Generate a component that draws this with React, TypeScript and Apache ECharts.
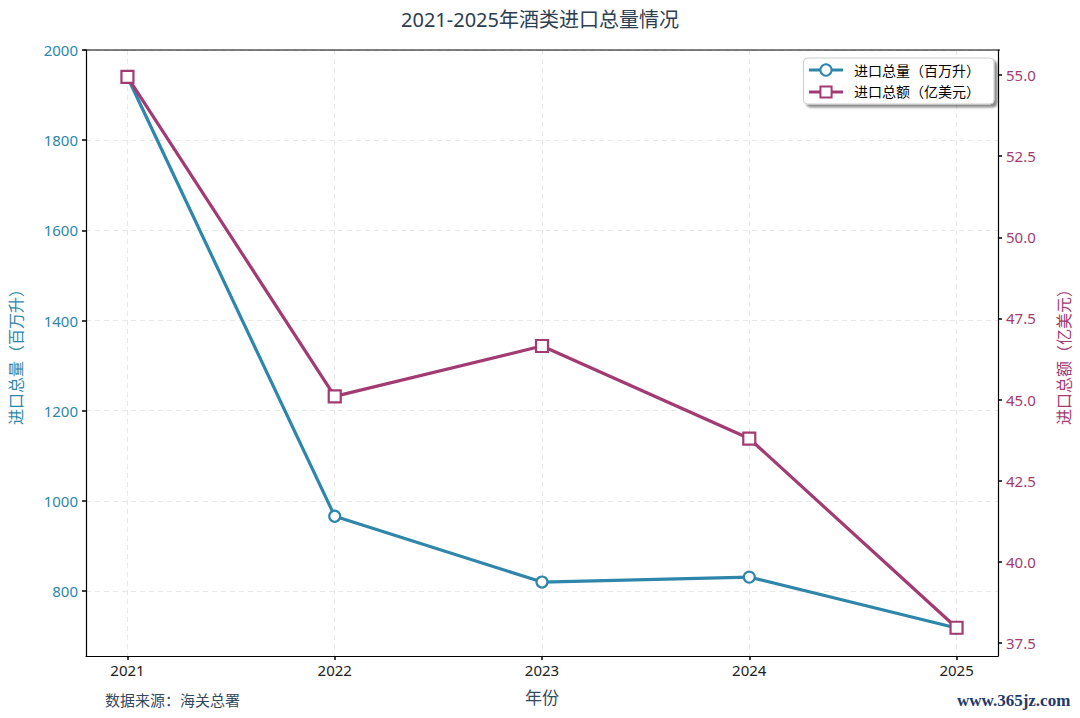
import React, { useEffect, useRef } from "react";
import * as echarts from "echarts";

const years = [2021, 2022, 2023, 2024, 2025];
const volume = [1940, 966, 820, 831, 718];
const amount = [54.94, 45.1, 46.65, 43.8, 37.97];
const leftTicks = [800, 1000, 1200, 1400, 1600, 1800, 2000];
const rightTicks = [37.5, 40, 42.5, 45, 47.5, 50, 52.5, 55];

const BLUE = "#2E86AB";
const MAG = "#A23B72";
const FONT = "'Noto Sans', 'Noto Sans CJK SC', sans-serif";

export default function App() {
  const ref = useRef<HTMLDivElement>(null);
  useEffect(() => {
    if (!ref.current) return;
    const chart = echarts.init(ref.current, null, { renderer: "svg" });
    chart.setOption({
      animation: false,
      backgroundColor: "#ffffff",
      textStyle: { fontFamily: FONT },
      title: {
        text: "2021-2025年酒类进口总量情况",
        left: "center",
        top: 4,
        textStyle: { fontSize: 20, fontWeight: "normal", color: "#2C3E50", fontFamily: FONT },
      },
      legend: {
        right: 86,
        top: 58,
        orient: "vertical",
        itemWidth: 34,
        itemHeight: 14,
        itemGap: 8,
        padding: [5, 14, 5, 4],
        backgroundColor: "#ffffff",
        borderColor: "#cccccc",
        borderWidth: 1,
        borderRadius: 4,
        shadowColor: "rgba(0,0,0,0.45)",
        shadowBlur: 2,
        shadowOffsetX: 3,
        shadowOffsetY: 3,
        lineStyle: { width: 3 },
        textStyle: { fontSize: 14, color: "#000", fontFamily: FONT, padding: [0, 0, 0, 6] },
        data: ["进口总量（百万升）", "进口总额（亿美元）"],
      },
      grid: { left: 84, right: 80, top: 50, bottom: 62 },
      xAxis: {
        type: "value",
        min: 2020.8,
        max: 2025.2,
        name: "年份",
        nameLocation: "middle",
        nameGap: 33,
        nameTextStyle: { fontSize: 17, color: "#34495E" },
        axisLine: { show: true, lineStyle: { color: "#000", width: 1.2 } },
        axisTick: { show: true, length: 4, inside: false, customValues: years, lineStyle: { color: "#000", width: 1.5 } },
        axisLabel: { customValues: years, color: "#222", fontSize: 15, margin: 6, formatter: (v: number) => String(v) },
        splitLine: { show: true, lineStyle: { color: "#e8e8e8", type: [5, 4], width: 1 } },
      },
      yAxis: [
        {
          type: "value",
          min: 656,
          max: 2000,
          position: "left",
          name: "进口总量（百万升）",
          nameLocation: "middle",
          nameGap: 62,
          nameTextStyle: { fontSize: 16, color: BLUE },
          axisLine: { show: true, lineStyle: { color: "#000", width: 1.2 } },
          axisTick: { show: true, length: 4, customValues: leftTicks, lineStyle: { color: "#000", width: 1.5 } },
          axisLabel: { customValues: leftTicks, color: BLUE, fontSize: 15, margin: 8, formatter: (v: number) => String(v) },
          splitLine: { show: true, lineStyle: { color: "#e8e8e8", type: [5, 4], width: 1 } },
        },
        {
          type: "value",
          min: 37.1,
          max: 55.77,
          position: "right",
          name: "进口总额（亿美元）",
          nameLocation: "middle",
          nameGap: 58,
          nameRotate: 90,
          nameTextStyle: { fontSize: 16, color: MAG },
          axisLine: { show: true, lineStyle: { color: "#000", width: 1.2 } },
          axisTick: { show: true, length: 4, customValues: rightTicks, lineStyle: { color: "#000", width: 1.5 } },
          axisLabel: { customValues: rightTicks, color: MAG, fontSize: 15, margin: 8, formatter: (v: number) => v.toFixed(1) },
          splitLine: { show: false },
        },
      ],
      graphic: [
        { type: "line", z: 100, shape: { x1: 84, y1: 50, x2: 1000, y2: 50 }, style: { stroke: "#000", lineWidth: 1.2 }, silent: true },
        {
          type: "text",
          left: 105,
          top: 692,
          style: { text: "数据来源：海关总署", fill: "#34495E", font: `15px ${FONT}` },
        },
        {
          type: "text",
          left: 957,
          top: 692,
          style: { text: "www.365jz.com", fill: "#1F3A6E", font: `bold 17px 'Liberation Serif', serif` },
        },
      ],
      series: [
        {
          name: "进口总量（百万升）",
          type: "line",
          yAxisIndex: 0,
          data: years.map((y, i) => [y, volume[i]]),
          symbol: "circle",
          symbolSize: 11,
          lineStyle: { color: BLUE, width: 3.2 },
          itemStyle: { color: "#ffffff", borderColor: BLUE, borderWidth: 2.2 },
          z: 2,
        },
        {
          name: "进口总额（亿美元）",
          type: "line",
          yAxisIndex: 1,
          data: years.map((y, i) => [y, amount[i]]),
          symbol: "rect",
          symbolSize: 12,
          lineStyle: { color: MAG, width: 3.2 },
          itemStyle: { color: "#ffffff", borderColor: MAG, borderWidth: 2.2 },
          z: 3,
        },
      ],
    });
    return () => chart.dispose();
  }, []);
  return <div ref={ref} style={{ width: 1080, height: 718, position: "absolute", left: 0, top: 0 }} />;
}
